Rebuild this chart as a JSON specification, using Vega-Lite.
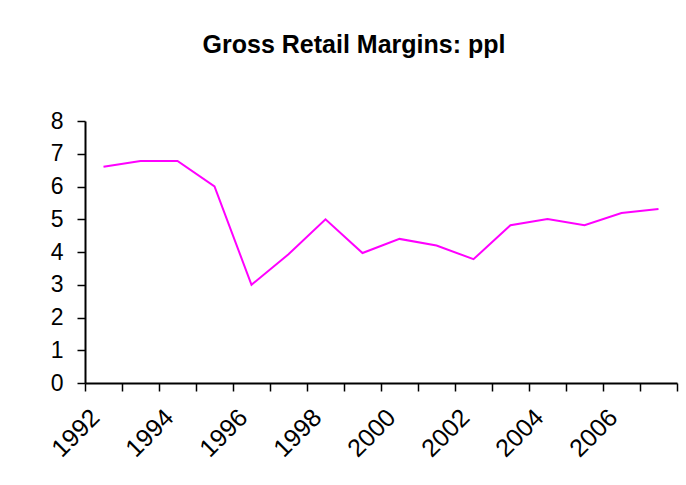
{
  "$schema": "https://vega.github.io/schema/vega-lite/v6.json",
  "autosize": {"type": "none"},
  "width": 592,
  "height": 262,
  "padding": {"left": 85, "top": 121, "right": 9, "bottom": 102},
  "background": "white",
  "title": {
    "text": "Gross Retail Margins: ppl",
    "font": "Liberation Sans",
    "fontSize": 25,
    "fontWeight": "bold",
    "color": "black",
    "anchor": "middle",
    "baseline": "alphabetic",
    "offset": 32,
    "dx": -27
  },
  "data": {
    "values": [
      {"year": 1992, "margin": 6.6},
      {"year": 1993, "margin": 6.78},
      {"year": 1994, "margin": 6.78},
      {"year": 1995, "margin": 6.0},
      {"year": 1996, "margin": 3.0},
      {"year": 1997, "margin": 3.93},
      {"year": 1998, "margin": 5.0},
      {"year": 1999, "margin": 3.97},
      {"year": 2000, "margin": 4.4},
      {"year": 2001, "margin": 4.2},
      {"year": 2002, "margin": 3.78},
      {"year": 2003, "margin": 4.82},
      {"year": 2004, "margin": 5.01},
      {"year": 2005, "margin": 4.82},
      {"year": 2006, "margin": 5.19},
      {"year": 2007, "margin": 5.31}
    ]
  },
  "mark": {"type": "line", "color": "#FF00FF", "strokeWidth": 2},
  "encoding": {
    "x": {
      "field": "year",
      "type": "quantitative",
      "scale": {"domain": [1991.5, 2007.5], "nice": false, "zero": false},
      "axis": {
        "title": null,
        "grid": false,
        "values": [1991.5, 1992.5, 1993.5, 1994.5, 1995.5, 1996.5, 1997.5, 1998.5, 1999.5, 2000.5, 2001.5, 2002.5, 2003.5, 2004.5, 2005.5, 2006.5, 2007.5],
        "labelExpr": "((datum.value - 1991.5) % 2 == 0 && datum.value < 2007) ? format(datum.value + 0.5, 'd') : ''",
        "labelOffset": 10,
        "labelAngle": -45,
        "labelAlign": "right",
        "labelBaseline": "middle",
        "labelPadding": 22,
        "labelFont": "Liberation Sans",
        "labelFontSize": 25,
        "labelColor": "black",
        "labelOverlap": false,
        "labelFlush": false,
        "domainColor": "black",
        "domainWidth": 2,
        "tickColor": "black",
        "tickWidth": 1.5,
        "tickSize": 8
      }
    },
    "y": {
      "field": "margin",
      "type": "quantitative",
      "scale": {"domain": [0, 8], "nice": false},
      "axis": {
        "title": null,
        "grid": false,
        "values": [0, 1, 2, 3, 4, 5, 6, 7, 8],
        "labelFont": "Liberation Sans",
        "labelFontSize": 23,
        "labelColor": "black",
        "labelPadding": 14,
        "labelFlush": false,
        "labelOverlap": false,
        "domainColor": "black",
        "domainWidth": 2,
        "tickColor": "black",
        "tickWidth": 1.5,
        "tickSize": 8
      }
    }
  },
  "config": {"view": {"stroke": null}}
}
